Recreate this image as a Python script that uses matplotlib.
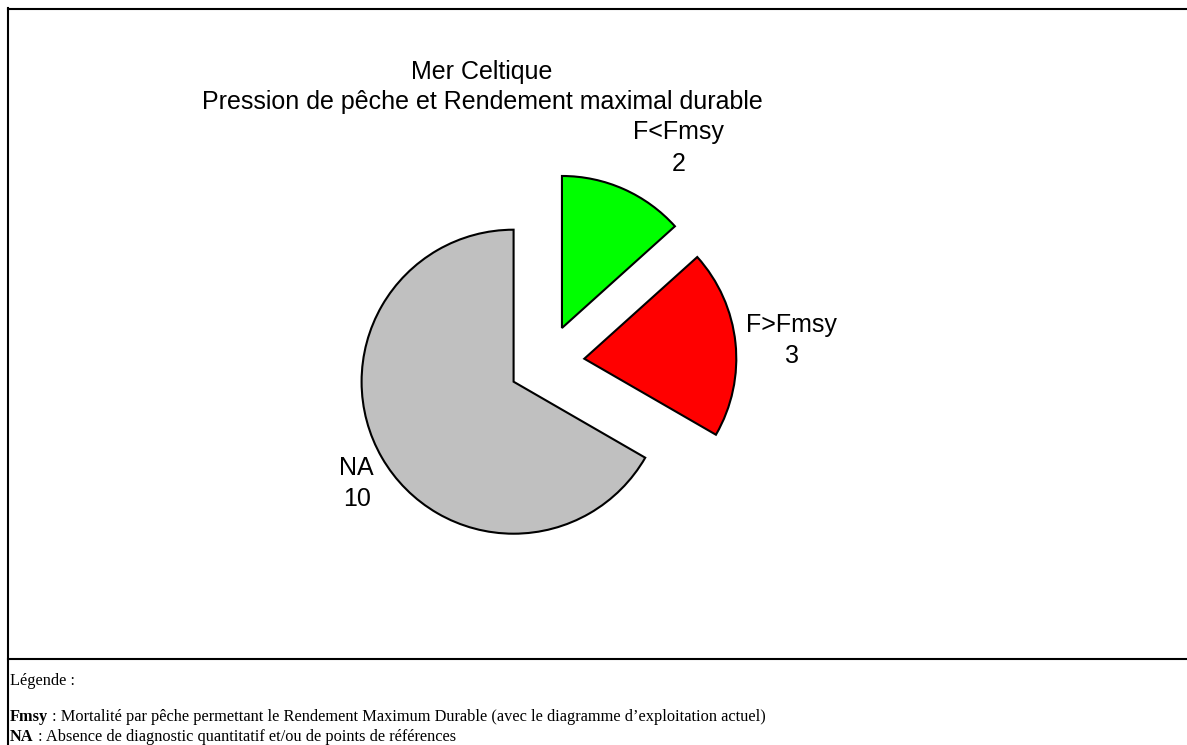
import matplotlib.pyplot as plt
import numpy as np
from matplotlib.lines import Line2D

# données du graphique
categories = ['F<Fmsy', 'F>Fmsy', 'NA']
effectifs = [2, 3, 10]
couleurs = ['#00FF00', '#FF0000', '#C0C0C0']

titre = "Mer Celtique\nPression de pêche et Rendement maximal durable"
legende_titre = "Légende :"
legende_termes = ['Fmsy', 'NA']
legende_defs = [" : Mortalité par pêche permettant le Rendement Maximum Durable (avec le diagramme d\u2019exploitation actuel)",
                " : Absence de diagnostic quantitatif et/ou de points de références"]

W, H = 1187, 745
fig = plt.figure(figsize=(W / 100, H / 100), dpi=100)
ax = fig.add_axes([0, 0, 1, 1])

centre = (546.5, H - 362.7)
rayon = 152
wedges, texts = ax.pie(effectifs,
                       labels=[f'{c}\n{v}' for c, v in zip(categories, effectifs)],
                       colors=couleurs, startangle=90, counterclock=False,
                       explode=[0.25 * rayon] * 3, radius=rayon, center=centre,
                       wedgeprops=dict(edgecolor='black', linewidth=1.5),
                       textprops=dict(fontsize=18, family='Liberation Sans'))
ax.set_xlim(0, W)
ax.set_ylim(0, H)
ax.set_aspect('equal')
ax.axis('off')

# placement des étiquettes à l'extérieur des secteurs
dist = [1.41, 1.37, 1.23]
decal = [-9, -1, 3]
for w, t, d, a in zip(wedges, texts, dist, decal):
    th = np.deg2rad((w.theta1 + w.theta2) / 2 + a)
    cx, cy = w.center
    t.set_position((cx + d * w.r * np.cos(th), cy + d * w.r * np.sin(th)))
    t.set_ha('center')
    t.set_va('center')
    t.set_multialignment('center')
    t.set_linespacing(1.4)

fig.text(482 / W, 1 - 87 / H, titre, ha='center', va='center',
         fontsize=18, family='Liberation Sans', linespacing=1.35)

# cadre
lw = 1.5
fig.add_artist(Line2D([8 / W, 8 / W], [0, 1 - 8 / H], color='black', lw=lw))
fig.add_artist(Line2D([8 / W, 1], [1 - 9 / H, 1 - 9 / H], color='black', lw=lw))
fig.add_artist(Line2D([8 / W, 1], [1 - 659 / H, 1 - 659 / H], color='black', lw=lw))

# légende en bas
fs = 11.8
fig.text(10 / W, 1 - 681 / H, legende_titre, ha='left', va='center',
         fontsize=fs, family='Liberation Serif')
for i, (terme, defi) in enumerate(zip(legende_termes, legende_defs)):
    y = 1 - (717 + 20 * i) / H
    tb = fig.text(10 / W, y, terme, ha='left', va='center', fontsize=fs,
                  family='Liberation Serif', fontweight='bold')
    ax.annotate(defi, xy=(1, 0), xycoords=tb, ha='left', va='bottom',
                fontsize=fs, family='Liberation Serif')

fig.savefig('out.png', dpi=100)
